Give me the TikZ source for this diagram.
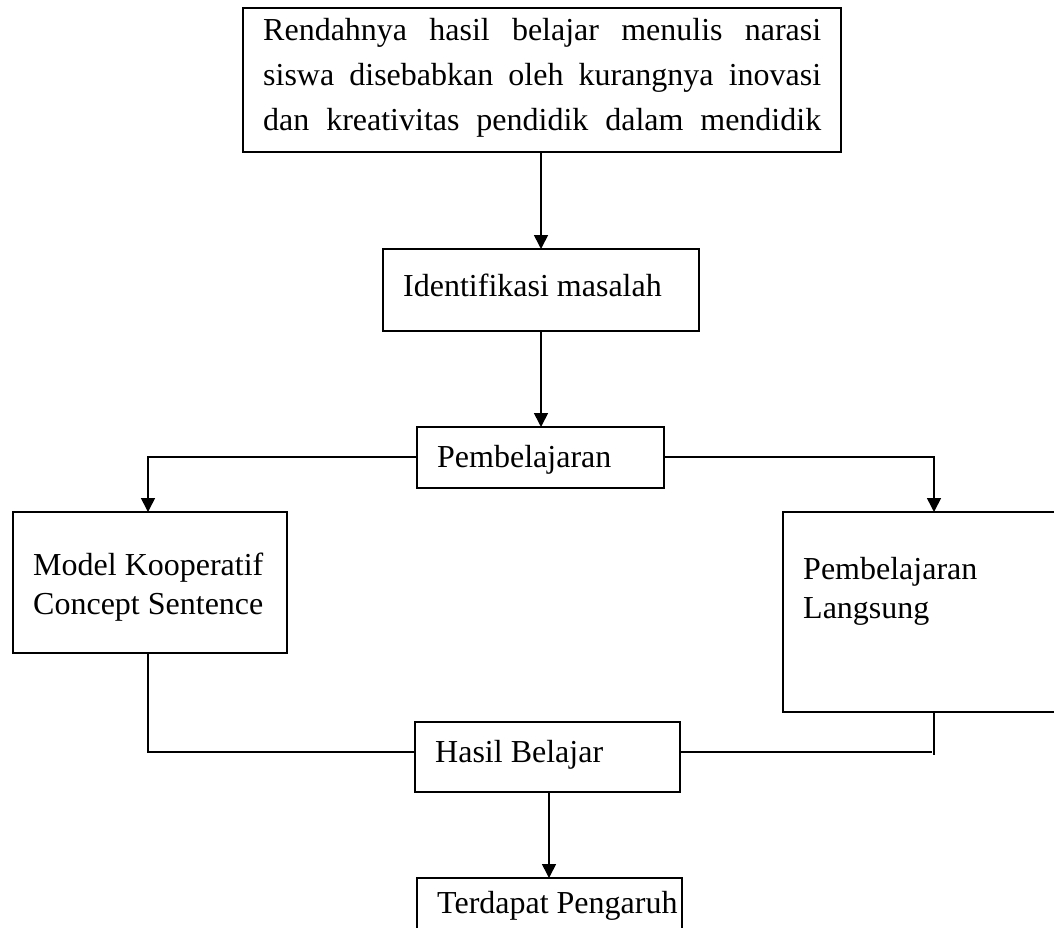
\documentclass[tikz,border=0pt]{standalone}
\usepackage{fontspec}
\setmainfont{Liberation Serif}
\usetikzlibrary{arrows.meta}
\begin{document}
\begin{tikzpicture}[x=1pt,y=-1pt,
  box/.style={draw=black,line width=1.6pt,inner sep=0pt},
  lbl/.style={anchor=west,inner sep=0pt,font=\fontsize{32}{39}\selectfont},
  conn/.style={draw=black,line width=1.6pt},
  arr/.style={conn,-{Triangle[length=14pt,width=14pt]}}]
\useasboundingbox (0,0) rectangle (1054,927);
\begin{scope}
\clip (0,0) rectangle (1054,927);
% boxes
\draw[box] (243,8) rectangle (841,152);
\node[anchor=north west,inner sep=0pt,align=left,font=\fontsize{32}{45}\selectfont] (t) at (263,18) {\makebox[558pt][s]{Rendahnya hasil belajar menulis narasi}\\\makebox[558pt][s]{siswa disebabkan oleh kurangnya inovasi}\\\makebox[558pt][s]{dan kreativitas pendidik dalam mendidik}};
\coordinate (topb) at (541,152);
\draw[box] (383,249) rectangle (699,331);
\node[lbl] (idt) at (403,285) {Identifikasi masalah};
\coordinate (idtop) at (541,249);
\coordinate (idbot) at (541,331);
\draw[box] (417,427) rectangle (664,488);
\node[lbl] (pb) at (437,460) {Pembelajaran};
\coordinate (pbtop) at (541,427);
\coordinate (pbl) at (417,457);
\coordinate (pbr) at (664,457);
\draw[box] (13,512) rectangle (287,653);
\node[lbl,align=left] (mk) at (33,587) {Model Kooperatif\\Concept Sentence};
\coordinate (mktop) at (148,512);
\coordinate (mkbot) at (148,653);
\draw[box] (783,512) rectangle (1060,712);
\node[lbl,align=left] (pl) at (803,591) {Pembelajaran\\Langsung};
\coordinate (pltop) at (934,512);
\coordinate (plbot) at (934,712);
\draw[box] (415,722) rectangle (680,792);
\node[lbl] (hb) at (435,755) {Hasil Belajar};
\coordinate (hbl) at (415,752);
\coordinate (hbr) at (680,752);
\coordinate (hbbot) at (549,792);
\draw[box] (417,878) rectangle (682,960);
\node[lbl] (tp) at (437,906) {Terdapat Pengaruh};
\coordinate (tptop) at (549,878);
% connectors
\draw[arr] (topb) -- (idtop);
\draw[arr] (idbot) -- (pbtop);
\draw[arr] (pbl) -| (mktop);
\draw[arr] (pbr) -| (pltop);
\draw[conn] (mkbot) |- (hbl);
\draw[conn] (plbot) -- (934,755);
\draw[conn] (hbr) -- (932,752);
\draw[arr] (hbbot) -- (tptop);
\end{scope}
\end{tikzpicture}
\end{document}
